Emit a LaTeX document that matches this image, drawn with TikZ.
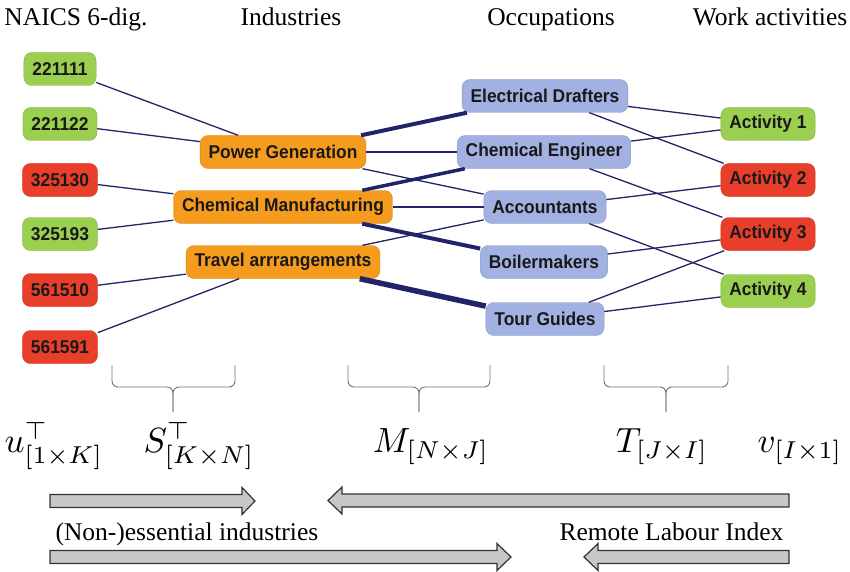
\documentclass[tikz,border=0pt]{standalone}
\usepackage{fontspec}
\setmainfont{Liberation Serif}
\newfontfamily\boxfont[FakeStretch=0.94]{Liberation Sans}
\definecolor{naicsgreen}{RGB}{155,207,80}
\definecolor{naicsred}{RGB}{232,62,42}
\definecolor{indorange}{RGB}{245,156,30}
\definecolor{occblue}{RGB}{162,177,226}
\definecolor{linkblue}{RGB}{35,35,105}
\begin{document}
\begin{tikzpicture}[x=1pt,y=-1pt,
  box/.style={rounded corners=8pt, inner xsep=8.5pt, inner ysep=0pt, minimum height=33pt, text=black!90, font=\boxfont\fontsize{18.5}{21}\selectfont\bfseries},
  greenbox/.style={box, fill=naicsgreen, draw=naicsgreen!85!black},
  redbox/.style={box, fill=naicsred, draw=naicsred!85!black},
  indbox/.style={box, fill=indorange, draw=indorange!85!black},
  occbox/.style={box, fill=occblue, draw=occblue!85!black},
  head/.style={anchor=base, font=\fontsize{25.5}{30}\selectfont},
  matlabel/.style={anchor=base, scale=3.5},
  link/.style={draw=linkblue, line width=1.3pt},
  brace/.style={draw=black!55, line width=0.9pt, rounded corners=6pt},
  blockarrow/.style={draw=black!80, fill=black!22, line width=1.2pt, line join=miter}]
\useasboundingbox (0,0) rectangle (850,572);
\node[head] (h1) at (76,26) {NAICS 6-dig.};
\node[head] (h2) at (291,26) {Industries};
\node[head] (h3) at (551,26) {Occupations};
\node[head] (h4) at (770,26) {Work activities};
\node[greenbox] (a1) at (60,69) {221111};
\node[greenbox] (a2) at (60,124) {221122};
\node[redbox] (a3) at (60,180) {325130};
\node[greenbox] (a4) at (60,234) {325193};
\node[redbox] (a5) at (60,290) {561510};
\node[redbox] (a6) at (60,347) {561591};
\node[indbox] (i1) at (283,152) {Power Generation};
\node[indbox] (i2) at (283,207) {Chemical Manufacturing};
\node[indbox] (i3) at (283,262) {Travel arrrangements};
\node[occbox] (o1) at (545,96) {Electrical Drafters};
\node[occbox] (o2) at (544,152) {Chemical Engineer};
\node[occbox] (o3) at (545,207) {Accountants};
\node[occbox] (o4) at (544,262) {Boilermakers};
\node[occbox] (o5) at (545,319) {Tour Guides};
\node[greenbox] (w1) at (768,124) {Activity 1};
\node[redbox] (w2) at (768,180) {Activity 2};
\node[redbox] (w3) at (768,234) {Activity 3};
\node[greenbox] (w4) at (768,291) {Activity 4};
\path[link] (a1) -- (i1);
\path[link] (a2) -- (i1);
\path[link] (a3) -- (i2);
\path[link] (a4) -- (i2);
\path[link] (a5) -- (i3);
\path[link] (a6) -- (i3);
\path[link,line width=4pt] (i1) -- (o1);
\path[link] (i1) -- (o2);
\path[link] (i1) -- (o3);
\path[link,line width=3.5pt] (i2) -- (o2);
\path[link] (i2) -- (o3);
\path[link,line width=4pt] (i2) -- (o4);
\path[link] (i3) -- (o3);
\path[link,line width=5.5pt] (i3) -- (o5);
\path[link] (o1) -- (w1);
\path[link] (o1) -- (w2);
\path[link] (o2) -- (w1);
\path[link] (o2) -- (w3);
\path[link] (o3) -- (w2);
\path[link] (o3) -- (w4);
\path[link] (o4) -- (w3);
\path[link] (o5) -- (w3);
\path[link] (o5) -- (w4);
\foreach \l/\c/\r in {112/173/235, 348/419/490, 604/666/728} {
  \draw[brace] (\l,365) |- (\c,387) -- (\c,412);
  \draw[brace] (\r,365) |- (\c,387) -- (\c,412);
}
\node[matlabel] (u) at (54,452) {$u^{\top}_{[1\times K]}$};
\node[matlabel] (S) at (199,452) {$S^{\top}_{[K\times N]}$};
\node[matlabel] (M) at (431,452) {$M_{[N\times J]}$};
\node[matlabel] (T) at (662,452) {$T_{[J\times I]}$};
\node[matlabel] (v) at (800,452) {$v_{[I\times 1]}$};
\draw[blockarrow] (50,494.5) -- (242,494.5) -- (242,487.5) -- (255,501) -- (242,514.5) -- (242,507.5) -- (50,507.5) -- cycle;
\draw[blockarrow] (789,494) -- (342,494) -- (342,487) -- (328,500.5) -- (342,514) -- (342,507) -- (789,507) -- cycle;
\draw[blockarrow] (50,550.5) -- (497,550.5) -- (497,543.5) -- (511,557) -- (497,570.5) -- (497,563.5) -- (50,563.5) -- cycle;
\draw[blockarrow] (789,550.5) -- (598,550.5) -- (598,543.5) -- (584,557) -- (598,570.5) -- (598,563.5) -- (789,563.5) -- cycle;
\node[head, anchor=base west] (ess) at (52,540) {(Non-)essential industries};
\node[head, anchor=base west] (rli) at (556,540) {Remote Labour Index};
\end{tikzpicture}
\end{document}
